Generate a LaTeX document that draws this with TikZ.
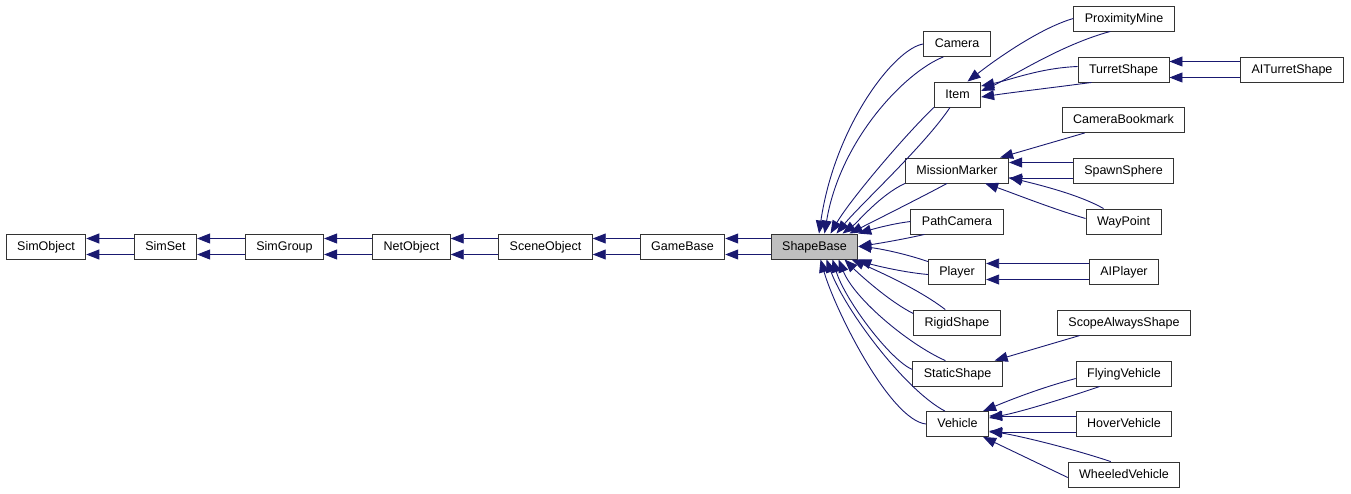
\documentclass[tikz,border=0pt]{standalone}
\usepackage{fontspec}
\setmainfont{Liberation Sans}
\usetikzlibrary{arrows.meta,calc}
\definecolor{edgeblue}{HTML}{191970}
\definecolor{basegray}{HTML}{BFBFBF}
\tikzset{
  cls/.style={draw=black!80,line width=0.9pt,fill=white,inner xsep=11pt,inner ysep=0pt,
    minimum height=25pt,text depth=0.25ex,font=\fontsize{12.5}{14}\selectfont},
  inh/.style={draw=edgeblue,line width=0.9pt,-{Triangle[length=13pt,width=10pt]}}
}
\begin{document}
\begin{tikzpicture}[x=1pt,y=-1pt]
\useasboundingbox (0,0) rectangle (1351,493);
% main row
\node[cls] (sobj) at (46,246.5) {SimObject};
\node[cls] (sset) at (165.5,246.5) {SimSet};
\node[cls] (sgrp) at (284.5,246.5) {SimGroup};
\node[cls] (nobj) at (411.5,246.5) {NetObject};
\node[cls] (scobj) at (545.5,246.5) {SceneObject};
\node[cls] (gbase) at (682.5,246.5) {GameBase};
\node[cls,fill=basegray] (sb) at (814.5,246.5) {ShapeBase};
% children of ShapeBase
\node[cls] (cam) at (957,44) {Camera};
\node[cls] (item) at (957.5,94.5) {Item};
\node[cls] (mm) at (957,170.5) {MissionMarker};
\node[cls] (pc) at (957,221.5) {PathCamera};
\node[cls] (pl) at (957,271.5) {Player};
\node[cls] (rs) at (957,322.5) {RigidShape};
\node[cls] (sts) at (957.5,373.5) {StaticShape};
\node[cls] (vh) at (957.5,424) {Vehicle};
% third column
\node[cls] (pm) at (1124,18.5) {ProximityMine};
\node[cls] (ts) at (1123.5,69.5) {TurretShape};
\node[cls] (aits) at (1292,69.5) {AITurretShape};
\node[cls] (cb) at (1123.5,120) {CameraBookmark};
\node[cls] (ss) at (1123.5,170.5) {SpawnSphere};
\node[cls] (wp) at (1123.5,221.5) {WayPoint};
\node[cls] (aip) at (1124,271.5) {AIPlayer};
\node[cls] (sas) at (1124,322.5) {ScopeAlwaysShape};
\node[cls] (fv) at (1124,373.5) {FlyingVehicle};
\node[cls] (hv) at (1124,424) {HoverVehicle};
\node[cls] (wv) at (1124,474.5) {WheeledVehicle};
% main row edges
\draw[inh] ($(sset.west)+(0,-8)$) -- ($(sobj.east)+(0,-8)$);
\draw[inh] ($(sset.west)+(0,8)$) -- ($(sobj.east)+(0,8)$);
\draw[inh] ($(sgrp.west)+(0,-8)$) -- ($(sset.east)+(0,-8)$);
\draw[inh] ($(sgrp.west)+(0,8)$) -- ($(sset.east)+(0,8)$);
\draw[inh] ($(nobj.west)+(0,-8)$) -- ($(sgrp.east)+(0,-8)$);
\draw[inh] ($(nobj.west)+(0,8)$) -- ($(sgrp.east)+(0,8)$);
\draw[inh] ($(scobj.west)+(0,-8)$) -- ($(nobj.east)+(0,-8)$);
\draw[inh] ($(scobj.west)+(0,8)$) -- ($(nobj.east)+(0,8)$);
\draw[inh] ($(gbase.west)+(0,-8)$) -- ($(scobj.east)+(0,-8)$);
\draw[inh] ($(gbase.west)+(0,8)$) -- ($(scobj.east)+(0,8)$);
\draw[inh] ($(sb.west)+(0,-8)$) -- ($(gbase.east)+(0,-8)$);
\draw[inh] ($(sb.west)+(0,8)$) -- ($(gbase.east)+(0,8)$);
% edges into ShapeBase, upper side
\draw[inh] (cam.west) .. controls (895,48) and (835,125) .. ($(sb.north)+(4.5,0)$);
\draw[inh] ($(cam.south west)+(20,0)$) .. controls (905,72) and (840,140) .. ($(sb.north)+(10,0)$);
\draw[inh] (item.south west) .. controls (905,135) and (850,200) .. ($(sb.north)+(16,0)$);
\draw[inh] ($(item.south)+(-7.5,0)$) .. controls (925,145) and (860,205) .. ($(sb.north)+(22,0)$);
\draw[inh] (mm.south west) .. controls (880,195) and (858,222) .. ($(sb.north)+(28,0)$);
\draw[inh] ($(mm.south)+(-10,0)$) .. controls (920,198) and (872,222) .. ($(sb.north)+(35,0)$);
\draw[inh] (pc.west) .. controls (890,224) and (870,230) .. (sb.north east);
\draw[inh] ($(pc.south west)+(14,0)$) .. controls (900,240) and (875,244) .. (sb.east);
% edges into ShapeBase, lower side
\draw[inh] ($(pl.west)+(0,-10)$) .. controls (900,252) and (875,248) .. (sb.east);
\draw[inh] ($(pl.west)+(0,3)$) .. controls (900,272) and (870,264) .. (sb.south east);
\draw[inh] ($(rs.west)+(0,-9)$) .. controls (890,302) and (860,275) .. ($(sb.south)+(30,0)$);
\draw[inh] ($(rs.north west)+(32,0)$) .. controls (920,290) and (880,272) .. ($(sb.south)+(37,0)$);
\draw[inh] ($(sts.west)+(0,-4)$) .. controls (890,360) and (845,300) .. ($(sb.south)+(18,0)$);
\draw[inh] ($(sts.north west)+(33,0)$) .. controls (910,345) and (855,300) .. ($(sb.south)+(24,0)$);
\draw[inh] (vh.west) .. controls (890,420) and (835,310) .. ($(sb.south)+(6,0)$);
\draw[inh] ($(vh.north west)+(19,0)$) .. controls (905,390) and (845,310) .. ($(sb.south)+(12,0)$);
% Item
\draw[inh] (pm.west) .. controls (1040,28) and (995,60) .. ($(item.north)+(10,0)$);
\draw[inh] ($(pm.south west)+(37,0)$) .. controls (1060,45) and (1010,78) .. ($(item.east)+(0,-3.5)$);
\draw[inh] ($(ts.west)+(0,-3)$) .. controls (1040,68) and (1010,80) .. ($(item.east)+(0,-8.5)$);
\draw[inh] ($(ts.south west)+(14,0)$) .. controls (1050,88) and (1015,92) .. ($(item.east)+(0,2.5)$);
\draw[inh] ($(aits.west)+(0,-8)$) -- ($(ts.east)+(0,-8)$);
\draw[inh] ($(aits.west)+(0,8)$) -- ($(ts.east)+(0,8)$);
% MissionMarker
\draw[inh] ($(cb.south west)+(23,0)$) -- ($(mm.north east)+(-9,0)$);
\draw[inh] ($(ss.west)+(0,-8)$) -- ($(mm.east)+(0,-8)$);
\draw[inh] ($(ss.west)+(0,8)$) -- ($(mm.east)+(0,8)$);
\draw[inh] ($(wp.west)+(0,-3)$) .. controls (1050,208) and (1010,192) .. ($(mm.south east)+(-24,0)$);
\draw[inh] ($(wp.north west)+(18,0)$) .. controls (1080,195) and (1040,185) .. ($(mm.east)+(0,7)$);
% Player, StaticShape
\draw[inh] ($(aip.west)+(0,-8)$) -- ($(pl.east)+(0,-8)$);
\draw[inh] ($(aip.west)+(0,8)$) -- ($(pl.east)+(0,8)$);
\draw[inh] ($(sas.south west)+(23,0)$) -- ($(sts.north east)+(-8,0)$);
% Vehicle
\draw[inh] ($(fv.west)+(0,5)$) .. controls (1040,388) and (1010,400) .. ($(vh.north east)+(-6,0)$);
\draw[inh] ($(fv.south west)+(24,0)$) .. controls (1060,400) and (1020,412) .. ($(vh.east)+(0,-6)$);
\draw[inh] ($(hv.west)+(0,-8)$) -- ($(vh.east)+(0,-8)$);
\draw[inh] ($(hv.west)+(0,8)$) -- ($(vh.east)+(0,8)$);
\draw[inh] ($(wv.north west)+(43,0)$) .. controls (1070,448) and (1020,436) .. ($(vh.east)+(0,7)$);
\draw[inh] ($(wv.west)+(0,3)$) -- ($(vh.south east)+(-6,0)$);
\end{tikzpicture}
\end{document}
